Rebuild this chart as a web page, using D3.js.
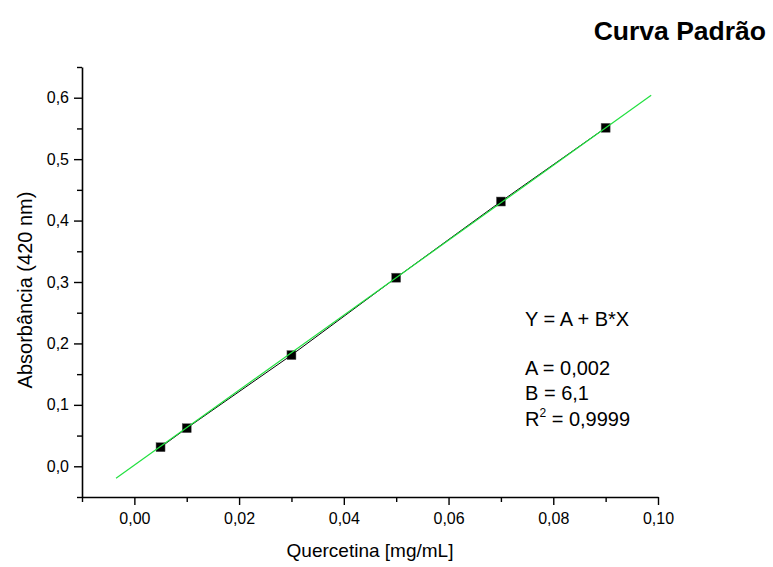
<!DOCTYPE html>
<html><head><meta charset="utf-8">
<script src="https://cdn.jsdelivr.net/npm/d3@7"></script>
<style>body{margin:0;background:#fff}svg{display:block}text{font-family:"Liberation Sans",Arial,sans-serif;fill:#000}</style>
</head><body><svg id="c" width="773" height="567"></svg>
<script>
const concentrations = [0.005, 0.01, 0.03, 0.05, 0.07, 0.09];
const absorbances = [0.031, 0.062, 0.181, 0.307, 0.431, 0.551];
const fitA = 0.002, fitB = 6.1;
const fitXRange = [-0.0035, 0.0987];
const xTicks = [0, 0.02, 0.04, 0.06, 0.08, 0.10];
const yTicks = [0, 0.1, 0.2, 0.3, 0.4, 0.5, 0.6];
const legendLines = ["Y = A + B*X", "A = 0,002", "B = 6,1"];

const svg = d3.select("#c");
const x = d3.scaleLinear().domain([-0.01, 0.10]).range([82, 658]);
const y = d3.scaleLinear().domain([-0.05, 0.65]).range([497, 67]);
const fmt = (d, n) => d.toFixed(n).replace(".", ",");

const xMinor = d3.range(-0.01, 0.1001, 0.01).filter(v => !xTicks.some(t => Math.abs(t - v) < 1e-9));
const yMinor = d3.range(-0.05, 0.651, 0.05).filter(v => !yTicks.some(t => Math.abs(t - v) < 1e-9));

const gx = svg.append("g").attr("transform", "translate(0,497)");
gx.call(d3.axisBottom(x).tickValues(xTicks).tickFormat(d => fmt(d, 2)).tickSize(8).tickSizeOuter(0).tickPadding(8));
gx.append("g").call(d3.axisBottom(x).tickValues(xMinor).tickFormat("").tickSize(5).tickSizeOuter(0)).select(".domain").remove();
const gy = svg.append("g").attr("transform", "translate(82,0)");
gy.call(d3.axisLeft(y).tickValues(yTicks).tickFormat(d => fmt(d, 1)).tickSize(8).tickSizeOuter(0).tickPadding(5));
gy.append("g").call(d3.axisLeft(y).tickValues(yMinor).tickFormat("").tickSize(5).tickSizeOuter(0)).select(".domain").remove();
svg.selectAll(".domain").attr("stroke", "#000").attr("stroke-width", 1.6);
svg.selectAll(".tick line").attr("stroke", "#000").attr("stroke-width", 1.4);
gx.attr("font-size", null); gy.attr("font-size", null);
svg.selectAll(".tick text").attr("font-size", null).style("font-size", "16px").style("font-family", "Liberation Sans, Arial, sans-serif");

const pts = concentrations.map((c, i) => [c, absorbances[i]]);
svg.append("path").datum(pts)
  .attr("d", d3.line().x(d => x(d[0])).y(d => y(d[1])))
  .attr("fill", "none").attr("stroke", "#000").attr("stroke-width", 1);

svg.selectAll("rect.pt").data(pts).enter().append("rect").attr("class", "pt")
  .attr("x", d => x(d[0]) - 4.5).attr("y", d => y(d[1]) - 4.5)
  .attr("width", 9).attr("height", 9).attr("fill", "#000").attr("stroke", "#666").attr("stroke-width", 0.5);

svg.append("line")
  .attr("x1", x(fitXRange[0])).attr("y1", y(fitA + fitB * fitXRange[0]))
  .attr("x2", x(fitXRange[1])).attr("y2", y(fitA + fitB * fitXRange[1]))
  .attr("stroke", "#22e040").attr("stroke-width", 1.2);

svg.append("text").attr("x", 370).attr("y", 557).attr("text-anchor", "middle").style("font-size", "19px").text("Quercetina [mg/mL]");
svg.append("text").attr("transform", "translate(32,290) rotate(-90)").attr("text-anchor", "middle").style("font-size", "20px").text("Absorbância (420 nm)");
svg.append("text").attr("x", 766).attr("y", 40).attr("text-anchor", "end").style("font-size", "26.5px").style("font-weight", "bold").text("Curva Padrão");

const lg = svg.append("g").style("font-size", "20px");
const legendY = [326, 375, 400];
legendLines.forEach((t, i) => lg.append("text").attr("x", 525).attr("y", legendY[i]).text(t));
const r2 = lg.append("text").attr("x", 525).attr("y", 426);
r2.append("tspan").text("R");
r2.append("tspan").attr("dy", -9).style("font-size", "12px").text("2");
r2.append("tspan").attr("dy", 9).text(" = 0,9999");
</script></body></html>
